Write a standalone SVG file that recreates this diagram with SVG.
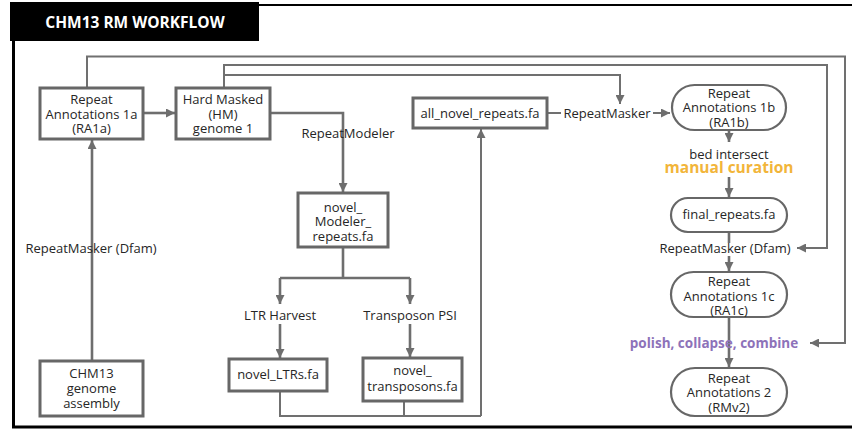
<svg xmlns="http://www.w3.org/2000/svg" width="852" height="429" viewBox="0 0 852 429">
  <style>
    .box { fill: #ffffff; stroke: #676767; stroke-width: 3; }
    .pill { fill: #ffffff; stroke: #676767; stroke-width: 2.2; }
    .lbl { font-family: "Open Sans", "Liberation Sans", sans-serif; font-size: 13px; fill: #262626; text-anchor: middle; }
    .curation { font-size: 15.5px; font-weight: bold; fill: #f2b53a; }
    .polish { font-size: 13.5px; font-weight: bold; fill: #8d72b9; }
    .edge { fill: none; stroke: #6e6e6e; stroke-width: 2.6; }
    .loop { fill: none; stroke: #707070; stroke-width: 2; }
    .frame { fill: none; stroke: #000000; }
  </style>
  <defs>
    <marker id="arrow" markerUnits="userSpaceOnUse" markerWidth="10" markerHeight="9" refX="9" refY="4.5" orient="auto">
      <path d="M0,0 L9,4.5 L0,9 z" fill="#6e6e6e"/>
    </marker>
  </defs>

  <rect width="852" height="429" fill="#ffffff"/>

  <!-- outer frame and title bar -->
  <g id="frame">
    <line class="frame" x1="259" y1="5" x2="852" y2="5" stroke-width="2"/>
    <line class="frame" x1="13.5" y1="40" x2="13.5" y2="428" stroke-width="3"/>
    <line class="frame" x1="12" y1="427" x2="852" y2="427" stroke-width="3"/>
    <rect x="10" y="2" width="249" height="39" fill="#000000"/>
    <text x="135" y="28" font-family="'Open Sans', 'Liberation Sans', sans-serif" font-size="15.5" font-weight="bold" fill="#ffffff" text-anchor="middle">CHM13 RM WORKFLOW</text>
  </g>

  <!-- connectors -->
  <g id="connectors">
    <path class="loop" d="M87,87 V56.5 H845 V343 H810" marker-end="url(#arrow)"/>
    <path class="loop" d="M224,87 V65 H827 V248 H797" marker-end="url(#arrow)"/>
    <path class="loop" d="M224,75 H620 V104" marker-end="url(#arrow)"/>
    <path class="edge" d="M143,113 H175" marker-end="url(#arrow)"/>
    <path class="edge" d="M92,361 V140" marker-end="url(#arrow)"/>
    <path class="edge" d="M270,113 H343 V192" marker-end="url(#arrow)"/>
    <path class="edge" d="M343,248 V278 M280,278 H410"/>
    <path class="edge" d="M280,278 V304" marker-end="url(#arrow)"/>
    <path class="edge" d="M410,278 V304" marker-end="url(#arrow)"/>
    <path class="edge" d="M280,324 V358" marker-end="url(#arrow)"/>
    <path class="edge" d="M410,324 V357" marker-end="url(#arrow)"/>
    <path class="loop" d="M280,391 V416 H481 M404,401 V416"/>
    <path class="loop" d="M481,416 V129" marker-end="url(#arrow)"/>
    <path class="loop" d="M547,113 H561 M653,113 H670" marker-end="url(#arrow)"/>
    <path class="edge" d="M729,130 V142" marker-end="url(#arrow)"/>
    <path class="edge" d="M729,177 V197" marker-end="url(#arrow)"/>
    <path class="edge" d="M729,232 V243 M729,256 V271" marker-end="url(#arrow)"/>
    <path class="edge" d="M729,317 V367" marker-end="url(#arrow)"/>
  </g>

  <!-- edge labels -->
  <g id="edge-labels">
    <text class="lbl" x="348" y="138">RepeatModeler</text>
    <text class="lbl" x="91" y="253">RepeatMasker (Dfam)</text>
    <text class="lbl" x="280" y="319.5">LTR Harvest</text>
    <text class="lbl" x="410" y="319.5">Transposon PSI</text>
    <text class="lbl" x="607" y="117.5">RepeatMasker</text>
    <text class="lbl" x="729" y="158.5">bed intersect</text>
    <text class="lbl curation" x="729" y="173">manual curation</text>
    <text class="lbl" x="725" y="253">RepeatMasker (Dfam)</text>
    <text class="lbl polish" x="714" y="348">polish, collapse, combine</text>
  </g>

  <!-- nodes -->
  <g id="ra1a">
    <rect class="box" x="40" y="88" width="103" height="51"/>
    <text class="lbl" x="91.5" y="104">Repeat</text>
    <text class="lbl" x="91.5" y="118.5">Annotations 1a</text>
    <text class="lbl" x="91.5" y="133">(RA1a)</text>
  </g>
  <g id="hm-genome">
    <rect class="box" x="176" y="88" width="94" height="51"/>
    <text class="lbl" x="223" y="104">Hard Masked</text>
    <text class="lbl" x="223" y="118.5">(HM)</text>
    <text class="lbl" x="223" y="133">genome 1</text>
  </g>
  <g id="all-novel-repeats">
    <rect class="box" x="413" y="98" width="134" height="30"/>
    <text class="lbl" x="480" y="117.5">all_novel_repeats.fa</text>
  </g>
  <g id="ra1b">
    <rect class="pill" x="672" y="85" width="114" height="45" rx="22.5"/>
    <text class="lbl" x="729" y="97.5">Repeat</text>
    <text class="lbl" x="729" y="112">Annotations 1b</text>
    <text class="lbl" x="729" y="126.5">(RA1b)</text>
  </g>
  <g id="final-repeats">
    <rect class="pill" x="671" y="198" width="116" height="34" rx="17"/>
    <text class="lbl" x="729" y="219">final_repeats.fa</text>
  </g>
  <g id="ra1c">
    <rect class="pill" x="671" y="272" width="116" height="45" rx="22.5"/>
    <text class="lbl" x="729" y="286">Repeat</text>
    <text class="lbl" x="729" y="300.5">Annotations 1c</text>
    <text class="lbl" x="729" y="315">(RA1c)</text>
  </g>
  <g id="ra2">
    <rect class="pill" x="671" y="368" width="116" height="48" rx="24"/>
    <text class="lbl" x="729" y="382.5">Repeat</text>
    <text class="lbl" x="729" y="397">Annotations 2</text>
    <text class="lbl" x="729" y="411.5">(RMv2)</text>
  </g>
  <g id="novel-modeler-repeats">
    <rect class="box" x="298" y="193" width="90" height="54"/>
    <text class="lbl" x="343" y="211.5">novel_</text>
    <text class="lbl" x="343" y="226">Modeler_</text>
    <text class="lbl" x="343" y="240.5">repeats.fa</text>
  </g>
  <g id="chm13-assembly">
    <rect class="box" x="40" y="361" width="103" height="55"/>
    <text class="lbl" x="91.5" y="378">CHM13</text>
    <text class="lbl" x="91.5" y="393">genome</text>
    <text class="lbl" x="91.5" y="408">assembly</text>
  </g>
  <g id="novel-ltrs">
    <rect class="box" x="229" y="359" width="98" height="32"/>
    <text class="lbl" x="278" y="379">novel_LTRs.fa</text>
  </g>
  <g id="novel-transposons">
    <rect class="box" x="363" y="358" width="99" height="43"/>
    <text class="lbl" x="412.5" y="374.5">novel_</text>
    <text class="lbl" x="412.5" y="390.5">transposons.fa</text>
  </g>
</svg>
